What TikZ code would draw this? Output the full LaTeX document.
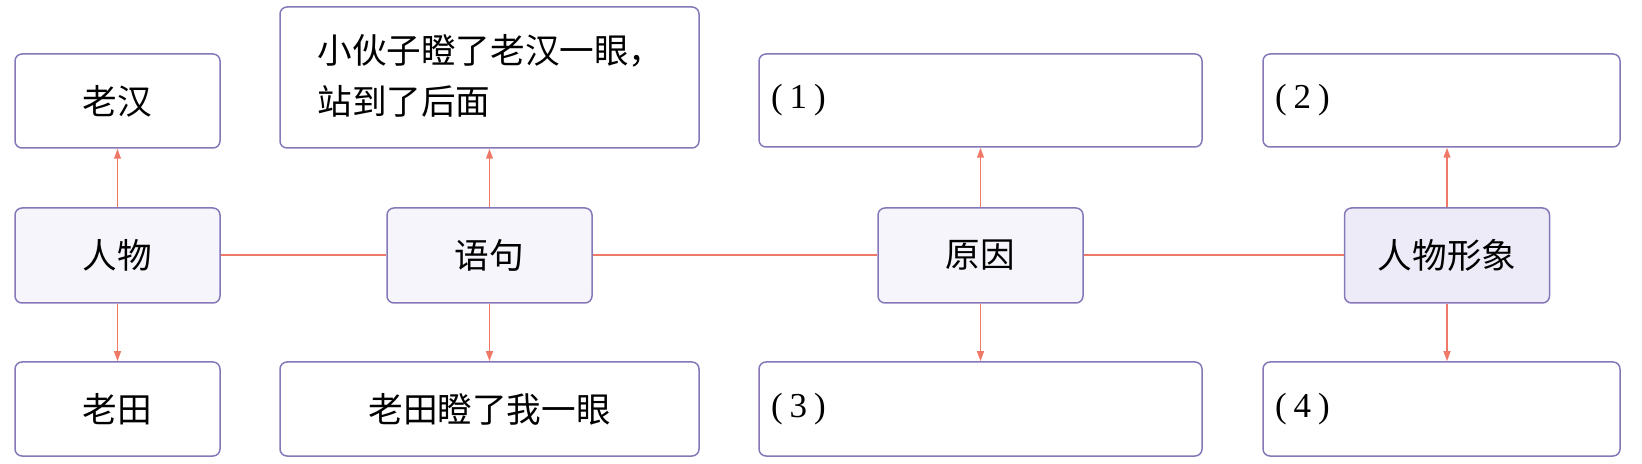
\documentclass[tikz,border=0pt]{standalone}
\usepackage{fontspec}
\setmainfont{Liberation Serif}
\newfontfamily\cjk{Noto Sans CJK SC}
\usetikzlibrary{arrows.meta}
\definecolor{bordc}{HTML}{8577B8}
\definecolor{linec}{HTML}{F07866}
\definecolor{fillc}{HTML}{F6F5FB}
\definecolor{fillk}{HTML}{EEEBF8}
\tikzset{
  box/.style={draw=bordc, line width=0.75pt, rounded corners=3.5pt, fill=white,
    inner sep=0pt, font=\cjk\fontsize{17.3}{25.5}\selectfont},
  cbox/.style={box, fill=fillc, minimum width=102.5pt, minimum height=47.5pt},
  sbox/.style={box, minimum width=102.5pt, minimum height=47pt},
  lbox/.style={box, minimum height=46.5pt, align=left, inner xsep=6pt,
    font=\fontsize{17.5}{20}\selectfont},
  conn/.style={draw=linec, line width=1pt},
  arr/.style={draw=linec, line width=0.8pt, -{Triangle[length=5pt,width=3.4pt]}},
}
\newcommand{\lab}[1]{(\kern3.5pt#1\kern3.5pt)}
\begin{document}
\begin{tikzpicture}[x=0.5pt,y=-0.5pt]
\useasboundingbox (0,0) rectangle (1642,464);
% column 1
\node[sbox] (lh) at (117.5,101) {老汉};
\node[cbox] (rw) at (117.5,255.5) {人物};
\node[sbox] (lt) at (117.5,409) {老田};
% column 2
\node[box, minimum width=209.5pt, minimum height=70.5pt, align=left, text width=172pt] (s1) at (489.5,77.5) {\raisebox{3pt}{小伙子瞪了老汉一眼，}\\\raisebox{3pt}{站到了后面}};
\node[cbox] (yj) at (489.5,255.5) {语句};
\node[box, minimum width=209.5pt, minimum height=47pt] (s2) at (489.5,409) {老田瞪了我一眼};
% column 3
\node[lbox, minimum width=221.5pt, text width=209.5pt] (b1) at (980.5,100.5) {\lab{1}};
\node[cbox] (yy) at (980.5,255.5) {原因};
\node[lbox, minimum width=221.5pt, text width=209.5pt, minimum height=47pt] (b3) at (980.5,409) {\lab{3}};
% column 4
\node[lbox, minimum width=178.5pt, text width=166.5pt] (b2) at (1441.5,100.5) {\lab{2}};
\node[cbox, fill=fillk] (xx) at (1447,255.5) {人物形象};
\node[lbox, minimum width=178.5pt, text width=166.5pt, minimum height=47pt] (b4) at (1441.5,409) {\lab{4}};
% connectors
\draw[conn] (rw.east) -- (yj.west);
\draw[conn] (yj.east) -- (yy.west);
\draw[conn] (yy.east) -- (xx.west);
\draw[arr] (rw.north) -- (lh.south);
\draw[arr] (rw.south) -- (lt.north);
\draw[arr] (yj.north) -- (yj.north |- s1.south);
\draw[arr] (yj.south) -- (yj.south |- s2.north);
\draw[arr] (yy.north) -- (yy.north |- b1.south);
\draw[arr] (yy.south) -- (yy.south |- b3.north);
\draw[arr] (xx.north) -- (xx.north |- b2.south);
\draw[arr] (xx.south) -- (xx.south |- b4.north);
\end{tikzpicture}
\end{document}
